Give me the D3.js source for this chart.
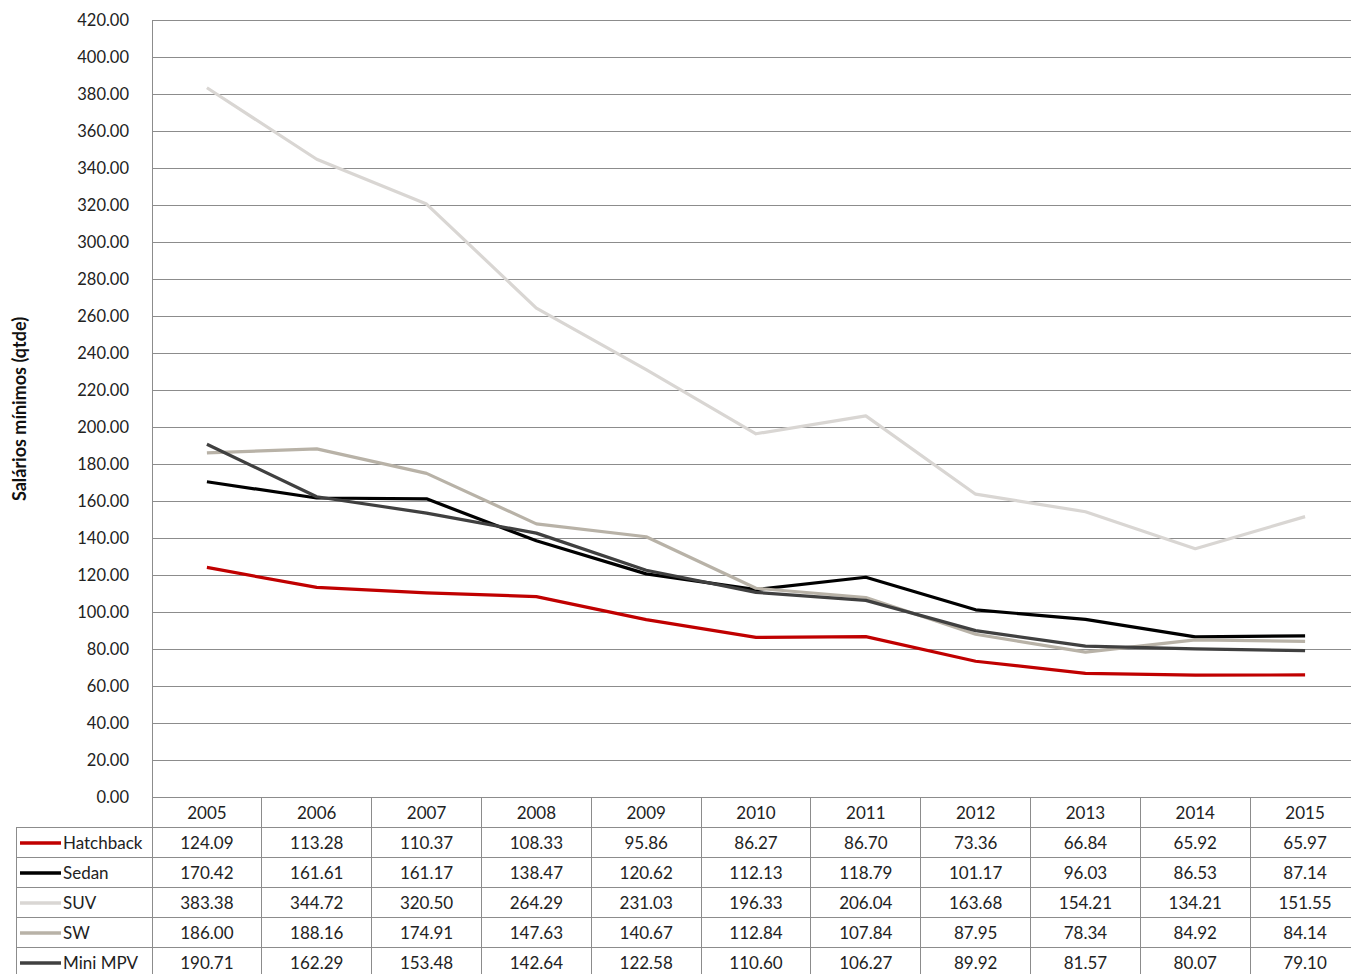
<!DOCTYPE html>
<html><head><meta charset="utf-8">
<script src="https://cdn.jsdelivr.net/npm/d3@7"></script>
<style>body{margin:0;background:#fff;overflow:hidden}svg{display:block;font-family:Lato,"Open Sans",sans-serif}</style>
</head><body><svg id="c" width="1351" height="974"></svg>
<script>
const years = ["2005","2006","2007","2008","2009","2010","2011","2012","2013","2014","2015"];
const seriesNames = ["Hatchback","Sedan","SUV","SW","Mini MPV"];
const hatchback = [124.09,113.28,110.37,108.33,95.86,86.27,86.70,73.36,66.84,65.92,65.97];
const sedan = [170.42,161.61,161.17,138.47,120.62,112.13,118.79,101.17,96.03,86.53,87.14];
const suv = [383.38,344.72,320.50,264.29,231.03,196.33,206.04,163.68,154.21,134.21,151.55];
const sw = [186.00,188.16,174.91,147.63,140.67,112.84,107.84,87.95,78.34,84.92,84.14];
const miniMpv = [190.71,162.29,153.48,142.64,122.58,110.60,106.27,89.92,81.57,80.07,79.10];
const yTicks = d3.range(0,421,20);
const colors = ["#c00000","#000000","#d9d6d3","#b8b2a7","#404040"];
const allSeries = [hatchback,sedan,suv,sw,miniMpv];

(function(){
const svg = d3.select("#c");
const pLeft = 152, pRight = 1360, pTop = 20, pBottom = 797;
const x = d3.scaleBand().domain(years).range([pLeft,pRight]);
const y = d3.scaleLinear().domain([0,420]).range([pBottom,pTop]);
const gridColor = "#8c8c8c";

svg.append("g").selectAll("line").data(yTicks).join("line")
  .attr("x1",pLeft).attr("x2",pRight).attr("y1",d=>y(d)).attr("y2",d=>y(d))
  .attr("stroke",gridColor).attr("stroke-width",1).attr("shape-rendering","crispEdges");
svg.append("line").attr("x1",pLeft).attr("x2",pLeft).attr("y1",pTop).attr("y2",pBottom)
  .attr("stroke",gridColor).attr("shape-rendering","crispEdges");

svg.append("g").selectAll("text").data(yTicks).join("text")
  .attr("x",129).attr("y",d=>y(d)).attr("dy","0.35em").attr("text-anchor","end")
  .attr("font-size",16.5).attr("fill","#222").text(d=>d.toFixed(2));

svg.append("text").attr("transform","translate(26,409) rotate(-90)")
  .attr("text-anchor","middle").attr("font-size",18).attr("font-weight","bold")
  .attr("fill","#111").text("Salários mínimos (qtde)");

const rowH = 30;
const tableTop = pBottom;
const tg = svg.append("g");
const colEdges = years.map(d=>x(d)).concat([pRight]);
colEdges.forEach((cx,i)=>{
  if(i===0) return;
  tg.append("line").attr("x1",cx).attr("x2",cx).attr("y1",tableTop).attr("y2",974)
    .attr("stroke",gridColor).attr("shape-rendering","crispEdges");
});
tg.append("line").attr("x1",pLeft).attr("x2",pLeft).attr("y1",tableTop).attr("y2",974)
  .attr("stroke",gridColor).attr("shape-rendering","crispEdges");
tg.append("line").attr("x1",16).attr("x2",16).attr("y1",tableTop+rowH).attr("y2",974)
  .attr("stroke",gridColor).attr("shape-rendering","crispEdges");
for(let i=1;i<=6;i++){
  const yy = tableTop + i*rowH;
  tg.append("line").attr("x1",16).attr("x2",pRight).attr("y1",yy).attr("y2",yy)
    .attr("stroke",gridColor).attr("shape-rendering","crispEdges");
}
tg.selectAll("text.hdr").data(years).join("text").attr("class","hdr")
  .attr("x",d=>x(d)+x.bandwidth()/2).attr("y",tableTop+rowH/2+1).attr("dy","0.35em")
  .attr("text-anchor","middle").attr("font-size",17).attr("fill","#222").text(d=>d);
seriesNames.forEach((name,si)=>{
  const cy = tableTop + rowH*(si+1) + rowH/2 + 1;
  tg.append("line").attr("x1",20).attr("x2",61).attr("y1",cy).attr("y2",cy)
    .attr("stroke",colors[si]).attr("stroke-width",3.5);
  tg.append("text").attr("x",63).attr("y",cy).attr("dy","0.35em")
    .attr("font-size",17).attr("fill","#222").text(name);
  tg.selectAll("text.v"+si).data(allSeries[si]).join("text").attr("class","v"+si)
    .attr("x",(d,i)=>x(years[i])+x.bandwidth()/2).attr("y",cy).attr("dy","0.35em")
    .attr("text-anchor","middle").attr("font-size",17).attr("fill","#222").text(d=>d.toFixed(2));
});

const line = d3.line().x((d,i)=>x(years[i])+x.bandwidth()/2).y(d=>y(d));
allSeries.forEach((s,si)=>{
  svg.append("path").datum(s).attr("d",line).attr("fill","none")
    .attr("stroke",colors[si]).attr("stroke-width",3.2).attr("stroke-linejoin","round");
});
})();
</script></body></html>
